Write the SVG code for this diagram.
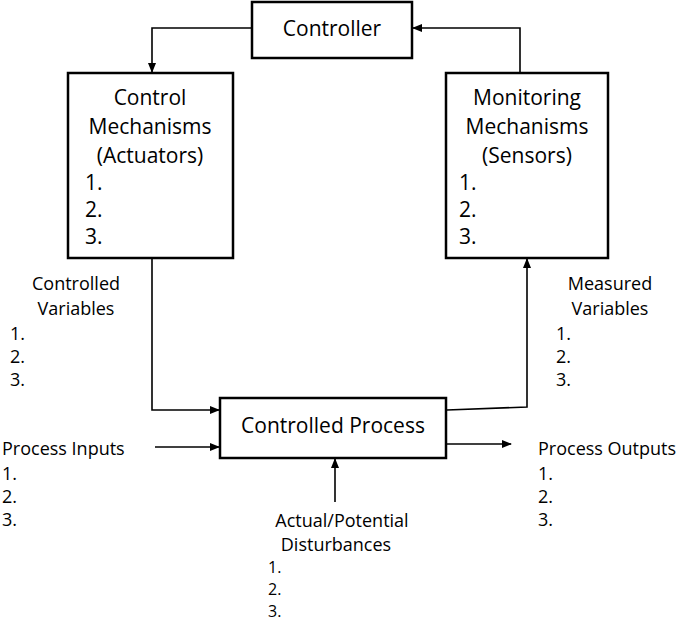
<svg xmlns="http://www.w3.org/2000/svg" width="685" height="622" viewBox="0 0 685 622">
<defs>
<marker id="ah" markerWidth="10" markerHeight="10" refX="9" refY="5" orient="auto" markerUnits="userSpaceOnUse"><path d="M0,1 L10,5 L0,9 Z" fill="#000"/></marker>
<style>
.box{fill:#fff;stroke:#000;stroke-width:2.5}
.t{font-family:"Open Sans","Liberation Sans",sans-serif;font-size:21px;fill:#000}
.s{font-family:"Open Sans","Liberation Sans",sans-serif;font-size:18px;fill:#000}
.d{font-family:"Open Sans","Liberation Sans",sans-serif;font-size:16px;fill:#000}
.c{fill:none;stroke:#000;stroke-width:1.6;marker-end:url(#ah)}
</style>
</defs>
<rect width="685" height="622" fill="#fff"/>
<g id="connectors">
<path class="c" d="M252,28 H152 V72"/>
<path class="c" d="M520,73 V28 H413"/>
<path class="c" d="M152,258 V410 H219"/>
<path class="c" d="M447,410 L527,407 V259"/>
<path class="c" d="M155,447 H219"/>
<path class="c" d="M447,444 H511"/>
<path class="c" d="M335,502 V459"/>
</g>
<g id="controller"><rect class="box" x="252" y="2" width="160" height="56"/><text class="t" x="332" y="36" text-anchor="middle">Controller</text></g>
<g id="actuators"><rect class="box" x="68" y="73" width="165" height="185"/>
<text class="t" x="150" y="105" text-anchor="middle">Control</text>
<text class="t" x="150" y="134" text-anchor="middle">Mechanisms</text>
<text class="t" x="150" y="163" text-anchor="middle">(Actuators)</text>
<text class="t" x="85" y="190">1.</text><text class="t" x="85" y="217">2.</text><text class="t" x="85" y="244">3.</text></g>
<g id="sensors"><rect class="box" x="446" y="73" width="162" height="185"/>
<text class="t" x="527" y="105" text-anchor="middle">Monitoring</text>
<text class="t" x="527" y="134" text-anchor="middle">Mechanisms</text>
<text class="t" x="527" y="163" text-anchor="middle">(Sensors)</text>
<text class="t" x="459" y="190">1.</text><text class="t" x="459" y="217">2.</text><text class="t" x="459" y="244">3.</text></g>
<g id="process"><rect class="box" x="220" y="398" width="226" height="60"/><text class="t" x="333" y="433" text-anchor="middle">Controlled Process</text></g>
<g id="controlled-vars"><text class="s" x="76" y="290" text-anchor="middle">Controlled</text><text class="s" x="76" y="315" text-anchor="middle">Variables</text>
<text class="s" x="10" y="340">1.</text><text class="s" x="10" y="363">2.</text><text class="s" x="10" y="386">3.</text></g>
<g id="measured-vars"><text class="s" x="610" y="290" text-anchor="middle">Measured</text><text class="s" x="610" y="315" text-anchor="middle">Variables</text>
<text class="s" x="556" y="340">1.</text><text class="s" x="556" y="363">2.</text><text class="s" x="556" y="386">3.</text></g>
<g id="inputs"><text class="s" x="2" y="455">Process Inputs</text><text class="s" x="2" y="480">1.</text><text class="s" x="2" y="503">2.</text><text class="s" x="2" y="526">3.</text></g>
<g id="outputs"><text class="s" x="538" y="455">Process Outputs</text><text class="s" x="538" y="480">1.</text><text class="s" x="538" y="503">2.</text><text class="s" x="538" y="526">3.</text></g>
<g id="disturbances"><text class="s" x="342" y="527" text-anchor="middle">Actual/Potential</text><text class="s" x="336" y="551" text-anchor="middle">Disturbances</text>
<text class="d" x="268" y="573">1.</text><text class="d" x="268" y="595">2.</text><text class="d" x="268" y="617">3.</text></g>
</svg>
